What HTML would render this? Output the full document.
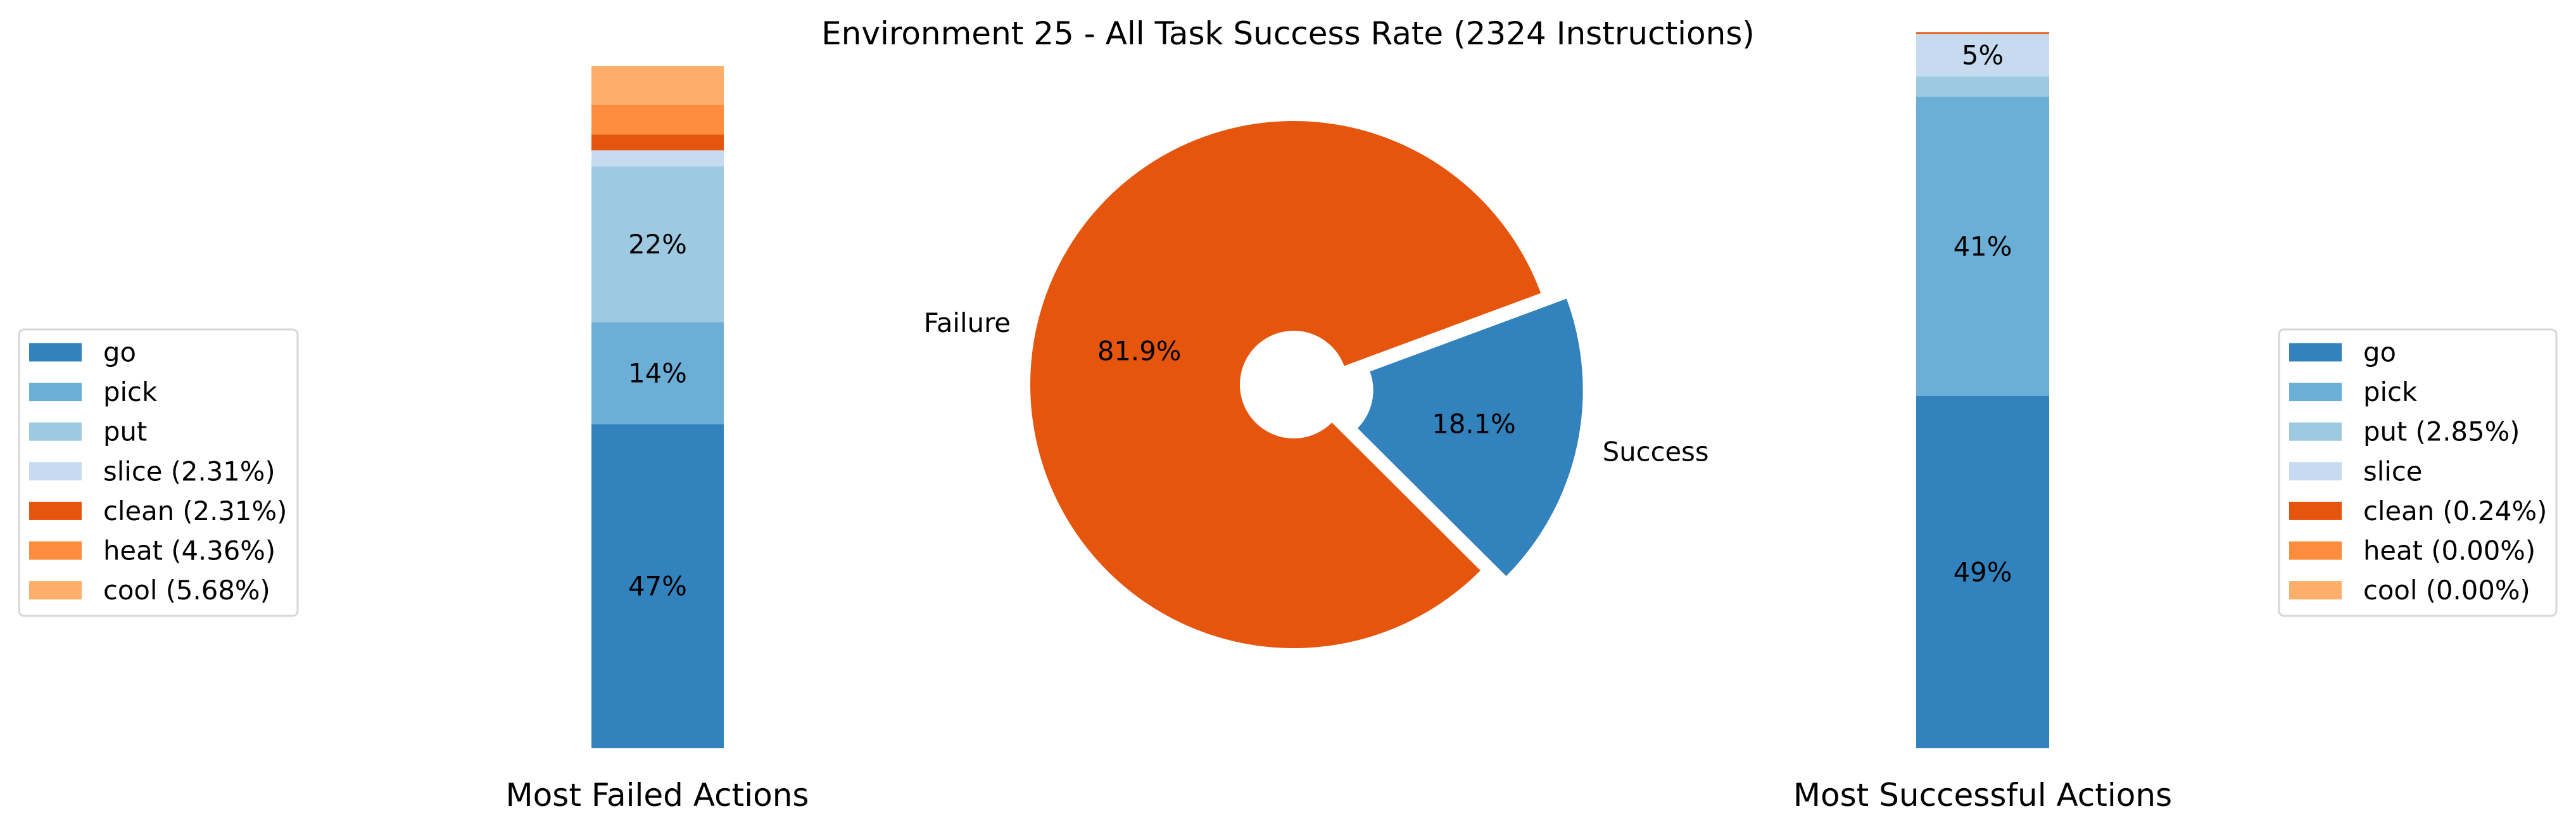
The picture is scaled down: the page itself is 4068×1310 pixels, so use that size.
<!DOCTYPE html>
<html><head><meta charset="utf-8"><style>
html,body{margin:0;padding:0;background:#fff;}
svg{display:block;font-family:"DejaVu Sans","Liberation Sans",sans-serif;}
</style></head><body>
<svg id="chart" width="4068" height="1310" viewBox="0 0 4068 1310" xmlns="http://www.w3.org/2000/svg">
<text x="2034" y="70" font-size="50" text-anchor="middle" fill="#000">Environment 25 - All Task Success Rate (2324 Instructions)</text>
<g id="pie"></g>
<g id="leftbar"></g>
<g id="rightbar"></g>
<text x="1038" y="1272" font-size="50" text-anchor="middle">Most Failed Actions</text>
<text x="3131" y="1272" font-size="50" text-anchor="middle">Most Successful Actions</text>
<g id="leftlegend"></g>
<g id="rightlegend"></g>
</svg>
<script>
const actions = ["go","pick","put","slice","clean","heat","cool"];
const actionColors = ["#3182bd","#6baed6","#9ecae1","#c6dbef","#e6550d","#fd8d3c","#fdae6b"];
const failedValues = [47.4, 14.9, 22.8, 2.31, 2.31, 4.36, 5.68];
const successValues = [49.2, 41.8, 2.85, 5.9, 0.24, 0.00, 0.00];
const failedLegend = ["go","pick","put","slice (2.31%)","clean (2.31%)","heat (4.36%)","cool (5.68%)"];
const successLegend = ["go","pick","put (2.85%)","slice","clean (0.24%)","heat (0.00%)","cool (0.00%)"];
const pieLabels = ["Failure","Success"];
const pieValues = [81.9, 18.1];
const pieColors = ["#e6550d","#3182bd"];

const NS = "http://www.w3.org/2000/svg";
function mk(tag, attrs, parent){const e=document.createElementNS(NS,tag);for(const k in attrs)e.setAttribute(k,attrs[k]);parent.appendChild(e);return e;}

function drawBar(gid, values, x0, x1, yTop, yBottom, prefix){
  const g=document.getElementById(gid);
  const total=values.reduce((a,b)=>a+b,0);
  const scale=(yBottom-yTop)/total;
  let acc=0;
  values.forEach((v,i)=>{
    const y1=yBottom-acc*scale, y2=yBottom-(acc+v)*scale;
    const r=mk("rect",{x:x0,y:y2,width:x1-x0,height:Math.max(0,y1-y2),fill:actionColors[i]},g);
    
    
    if(v>=5.8){
      const t=mk("text",{x:(x0+x1)/2,y:(y1+y2)/2,"font-size":41.7,"text-anchor":"middle","dominant-baseline":"central"},g);
      t.textContent=Math.floor(v)+"%";
      
      
    }
    acc+=v;
  });
}
drawBar("leftbar", failedValues, 934, 1143, 104, 1181, "failed");
drawBar("rightbar", successValues, 3026, 3236, 51, 1181, "success");

function drawLegend(gid, labels, bx, bw, prefix){
  const g=document.getElementById(gid);
  const box=mk("rect",{x:bx,y:520,width:bw,height:452,rx:8,fill:"#fff",stroke:"#d6d6d6","stroke-width":3},g);
  
  
  labels.forEach((lab,i)=>{
    const cy=556+i*62.6;
    const s=mk("rect",{x:bx+16,y:cy-14.5,width:83,height:29,fill:actionColors[i]},g);
    
    
    const t=mk("text",{x:bx+133,y:cy,"font-size":41.7,"dominant-baseline":"central"},g);
    t.textContent=lab;
    
    
  });
}
drawLegend("leftlegend", failedLegend, 30, 440, "failed");
drawLegend("rightlegend", successLegend, 3599, 438, "success");

(function(){
  const g=document.getElementById("pie");
  const cx=2043, cy=607, R=416, hole=85;
  const total=pieValues.reduce((a,b)=>a+b,0);
  let a=20.3;
  const rad=d=>d*Math.PI/180;
  const explode=[0,0.1];
  pieValues.forEach((v,i)=>{
    const span=v/total*360, a2=a+span, mid=rad(a+span/2);
    const ox=cx+explode[i]*R*Math.cos(mid), oy=cy-explode[i]*R*Math.sin(mid);
    const pt_=(r,ang)=>[ox+r*Math.cos(rad(ang)), oy-r*Math.sin(rad(ang))];
    const p1=pt_(R,a), p2=pt_(R,a2), q2=pt_(hole,a2), q1=pt_(hole,a);
    const lg=span>180?1:0;
    const d=`M${p1[0]},${p1[1]} A${R},${R} 0 ${lg} 0 ${p2[0]},${p2[1]} L${q2[0]},${q2[1]} A${hole},${hole} 0 ${lg} 1 ${q1[0]},${q1[1]} Z`;
    const p=mk("path",{d:d,fill:pieColors[i]},g);
    
    
    const lx=ox+1.1*R*Math.cos(mid), ly=oy-1.1*R*Math.sin(mid);
    const t=mk("text",{x:lx,y:ly,"font-size":41.7,"text-anchor":Math.cos(mid)<0?"end":"start","dominant-baseline":"central"},g);
    t.textContent=pieLabels[i];
    
    
    const px=ox+0.6*R*Math.cos(mid), py=oy-0.6*R*Math.sin(mid);
    const pt=mk("text",{x:px,y:py,"font-size":41.7,"text-anchor":"middle","dominant-baseline":"central"},g);
    pt.textContent=v.toFixed(1)+"%";
    
    
    a=a2;
  });
})();
</script>
</body></html>
